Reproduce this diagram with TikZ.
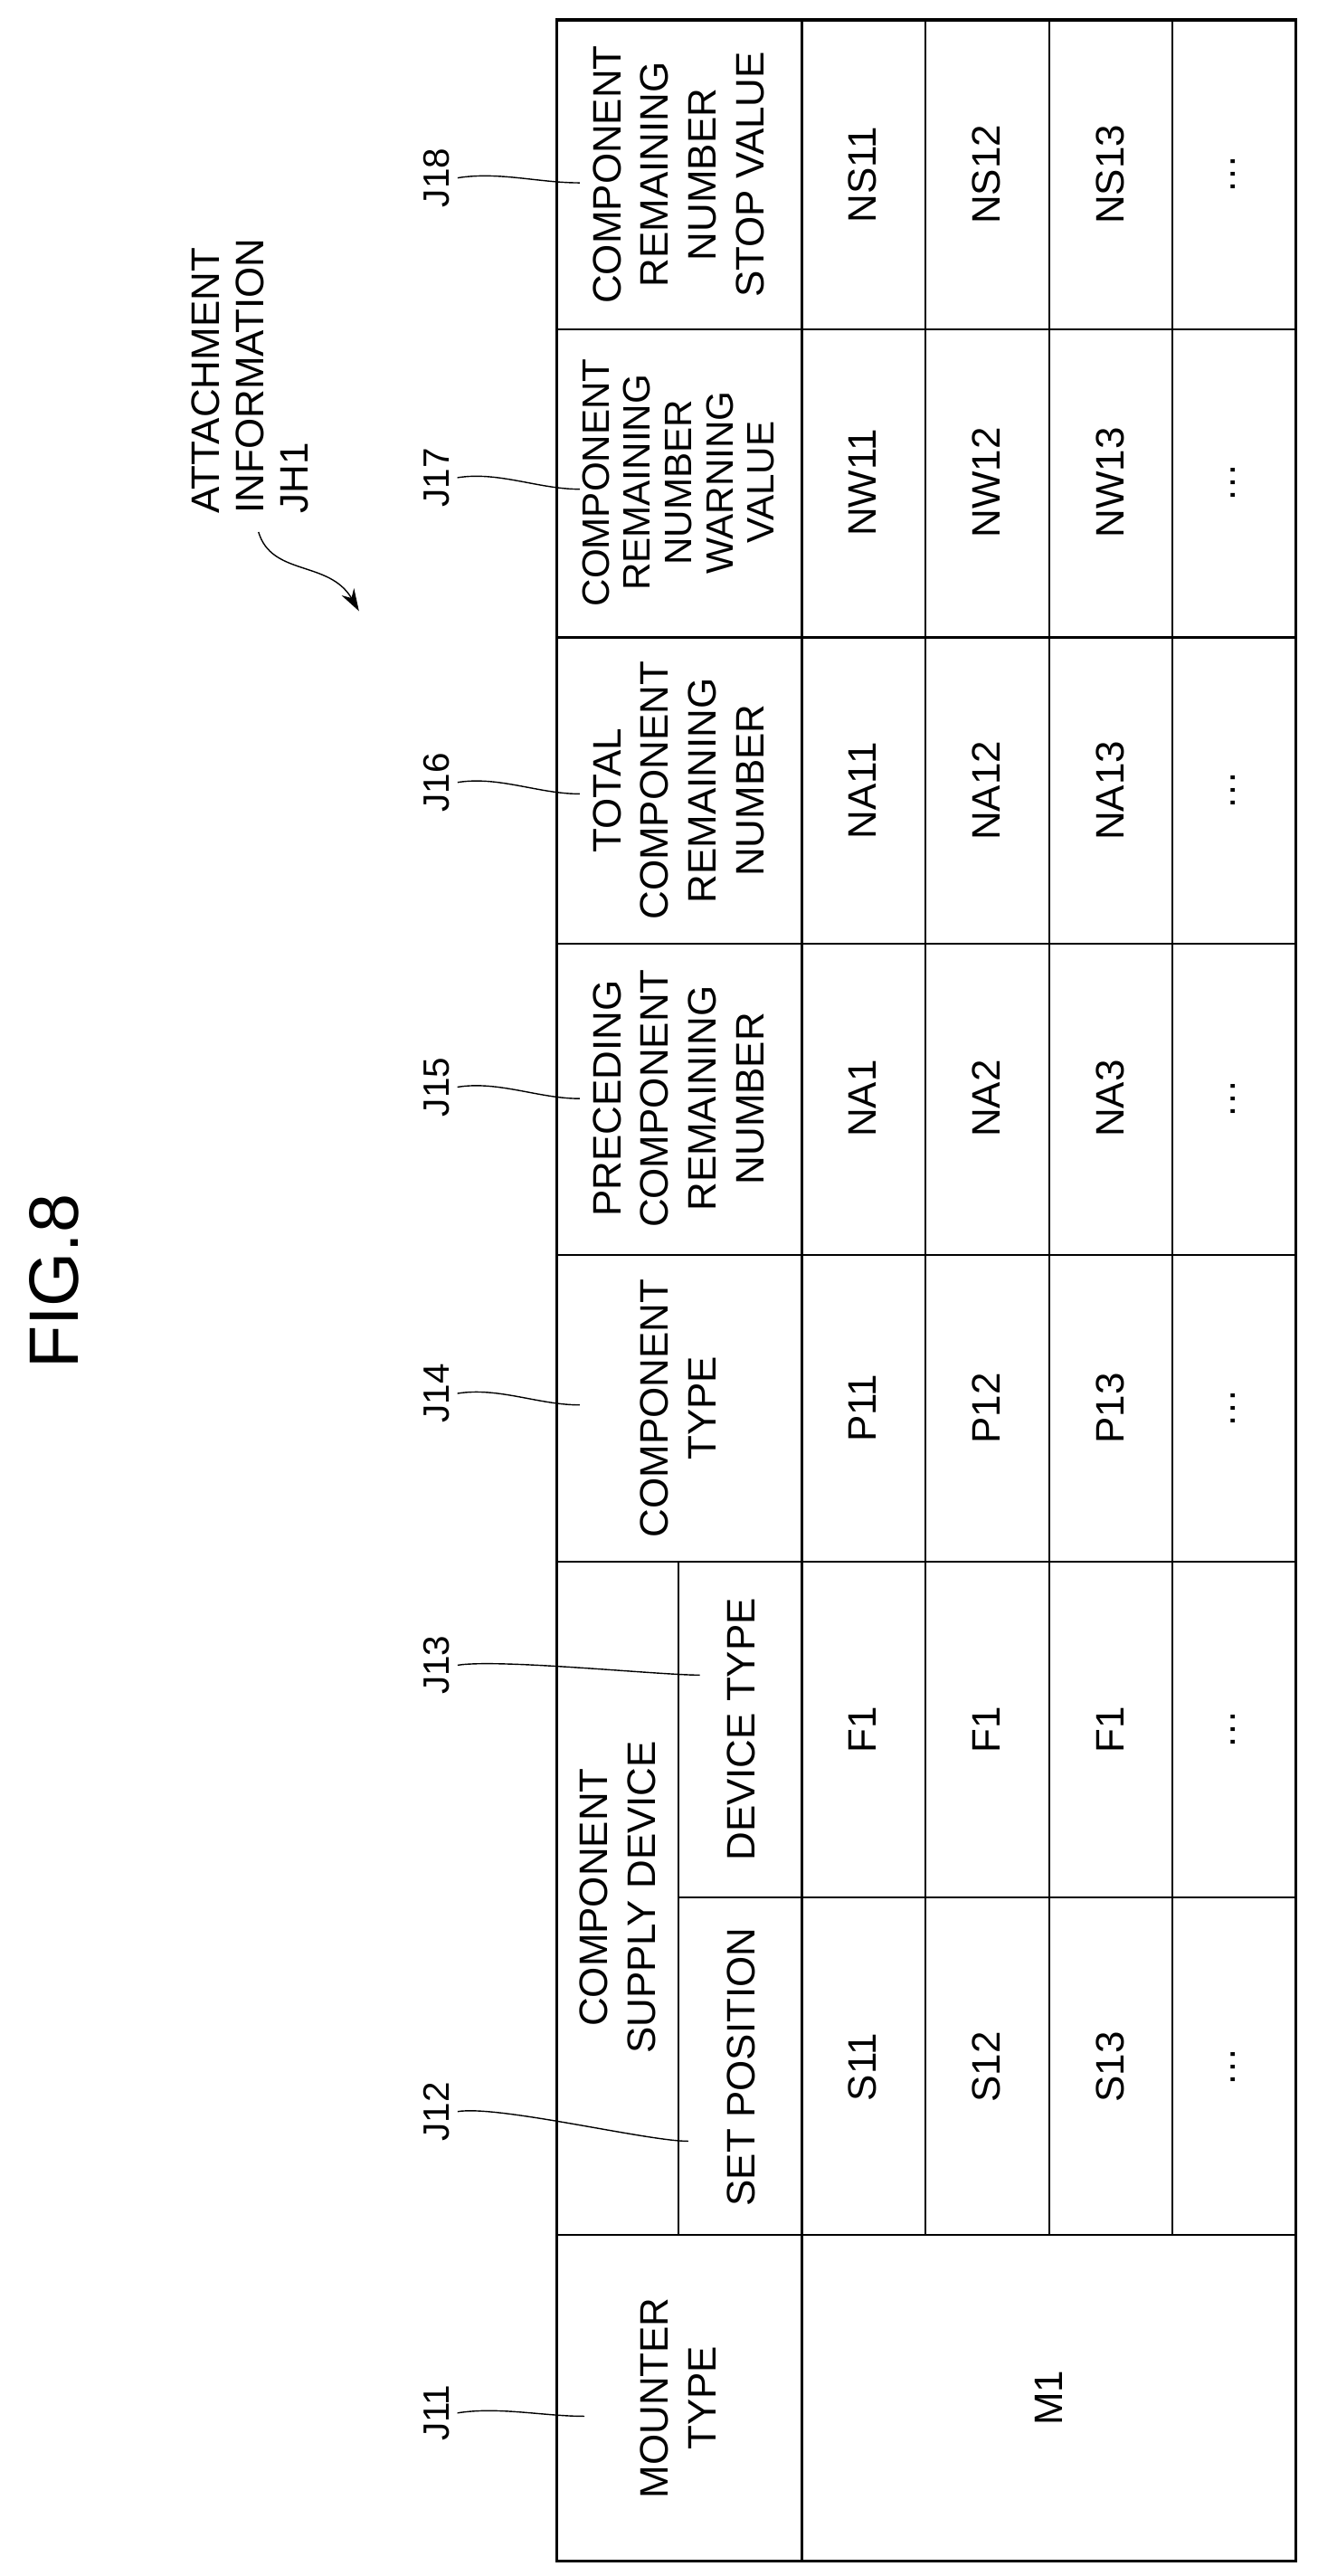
\documentclass[tikz,border=0pt]{standalone}
\usepackage{fontspec}
\setmainfont{Liberation Sans}
\usetikzlibrary{arrows.meta}
\tikzset{
  cell/.style={rotate=90, align=center, font=\fontsize{25}{30}\selectfont, inner sep=0pt},
  jlabel/.style={rotate=90, font=\fontsize{23}{26}\selectfont, inner sep=1pt},
  leader/.style={line width=0.8pt},
}
\begin{document}
\begin{tikzpicture}[x=0.0364cm, y=-0.0364cm]
    \useasboundingbox (0, 0) rectangle (800, 1564);

    % table frame
    \draw[line width=2pt] (338, 12) rectangle (787, 1555);
    \draw[line width=1.2pt] (487, 12) -- (487, 1555);
    \draw[line width=1.2pt] (412, 948) -- (412, 1357);
    \foreach \rx in {562, 637, 712}
        \draw[line width=1.2pt] (\rx, 12) -- (\rx, 1357);
    \foreach \cy in {200, 387, 573, 762, 948, 1357}
        \draw[line width=1.2pt] (338, \cy) -- (787, \cy);
    \draw[line width=1.2pt] (412, 1152) -- (787, 1152);

    % headers
    \node[cell] (h18) at (412, 106) {COMPONENT\\REMAINING\\NUMBER\\STOP VALUE};
    \node[cell, font=\fontsize{24}{26}\selectfont] (h17) at (412, 293) {COMPONENT\\REMAINING\\NUMBER\\WARNING\\VALUE};
    \node[cell] (h16) at (412, 480) {TOTAL\\COMPONENT\\REMAINING\\NUMBER};
    \node[cell] (h15) at (412, 667) {PRECEDING\\COMPONENT\\REMAINING\\NUMBER};
    \node[cell] (h14) at (412, 855) {COMPONENT\\TYPE};
    \node[cell] (h12a) at (375, 1152) {COMPONENT\\SUPPLY DEVICE};
    \node[cell] (h13) at (450, 1050) {DEVICE TYPE};
    \node[cell] (h12) at (450, 1255) {SET POSITION};
    \node[cell] (h11) at (412, 1456) {MOUNTER\\TYPE};

    % data
    \foreach \v [count=\i] in {NS11, NS12, NS13, \dots}
        \node[cell] (d18\i) at (449 + 75*\i, 106) {\v};
    \foreach \v [count=\i] in {NW11, NW12, NW13, \dots}
        \node[cell] (d17\i) at (449 + 75*\i, 293) {\v};
    \foreach \v [count=\i] in {NA11, NA12, NA13, \dots}
        \node[cell] (d16\i) at (449 + 75*\i, 480) {\v};
    \foreach \v [count=\i] in {NA1, NA2, NA3, \dots}
        \node[cell] (d15\i) at (449 + 75*\i, 667) {\v};
    \foreach \v [count=\i] in {P11, P12, P13, \dots}
        \node[cell] (d14\i) at (449 + 75*\i, 855) {\v};
    \foreach \v [count=\i] in {F1, F1, F1, \dots}
        \node[cell] (d13\i) at (449 + 75*\i, 1050) {\v};
    \foreach \v [count=\i] in {S11, S12, S13, \dots}
        \node[cell] (d12\i) at (449 + 75*\i, 1255) {\v};
    \node[cell] (m1) at (637, 1456) {M1};

    % labels and leaders
    \foreach \n/\ly/\ex/\ey in {18/108/352/111, 17/290/352/297, 16/475/352/482,
                                15/660/352/667, 14/846/352/853, 13/1011/425/1017,
                                12/1282/418/1300, 11/1465/355/1467} {
        \node[jlabel] (J\n) at (265, \ly) {J\n};
        \coordinate (e\n) at (\ex, \ey);
        \draw[leader] ([xshift=4pt]J\n.south) .. controls +(25, -4) and +(-25, 0) .. (e\n);
    }

    \node[cell, align=left, anchor=north west, font=\fontsize{25}{28}\selectfont] (jh1) at (116, 312) {ATTACHMENT\\INFORMATION\\JH1};
    \coordinate (jh1tip) at (218, 371);
    \draw[leader, -{Stealth[length=14pt, width=9pt]}] (157, 323) .. controls (165, 350) and (200, 340) .. (jh1tip);

    \node[rotate=90, font=\fontsize{44}{48}\selectfont] (fig) at (33, 778) {FIG.8};
\end{tikzpicture}
\end{document}
